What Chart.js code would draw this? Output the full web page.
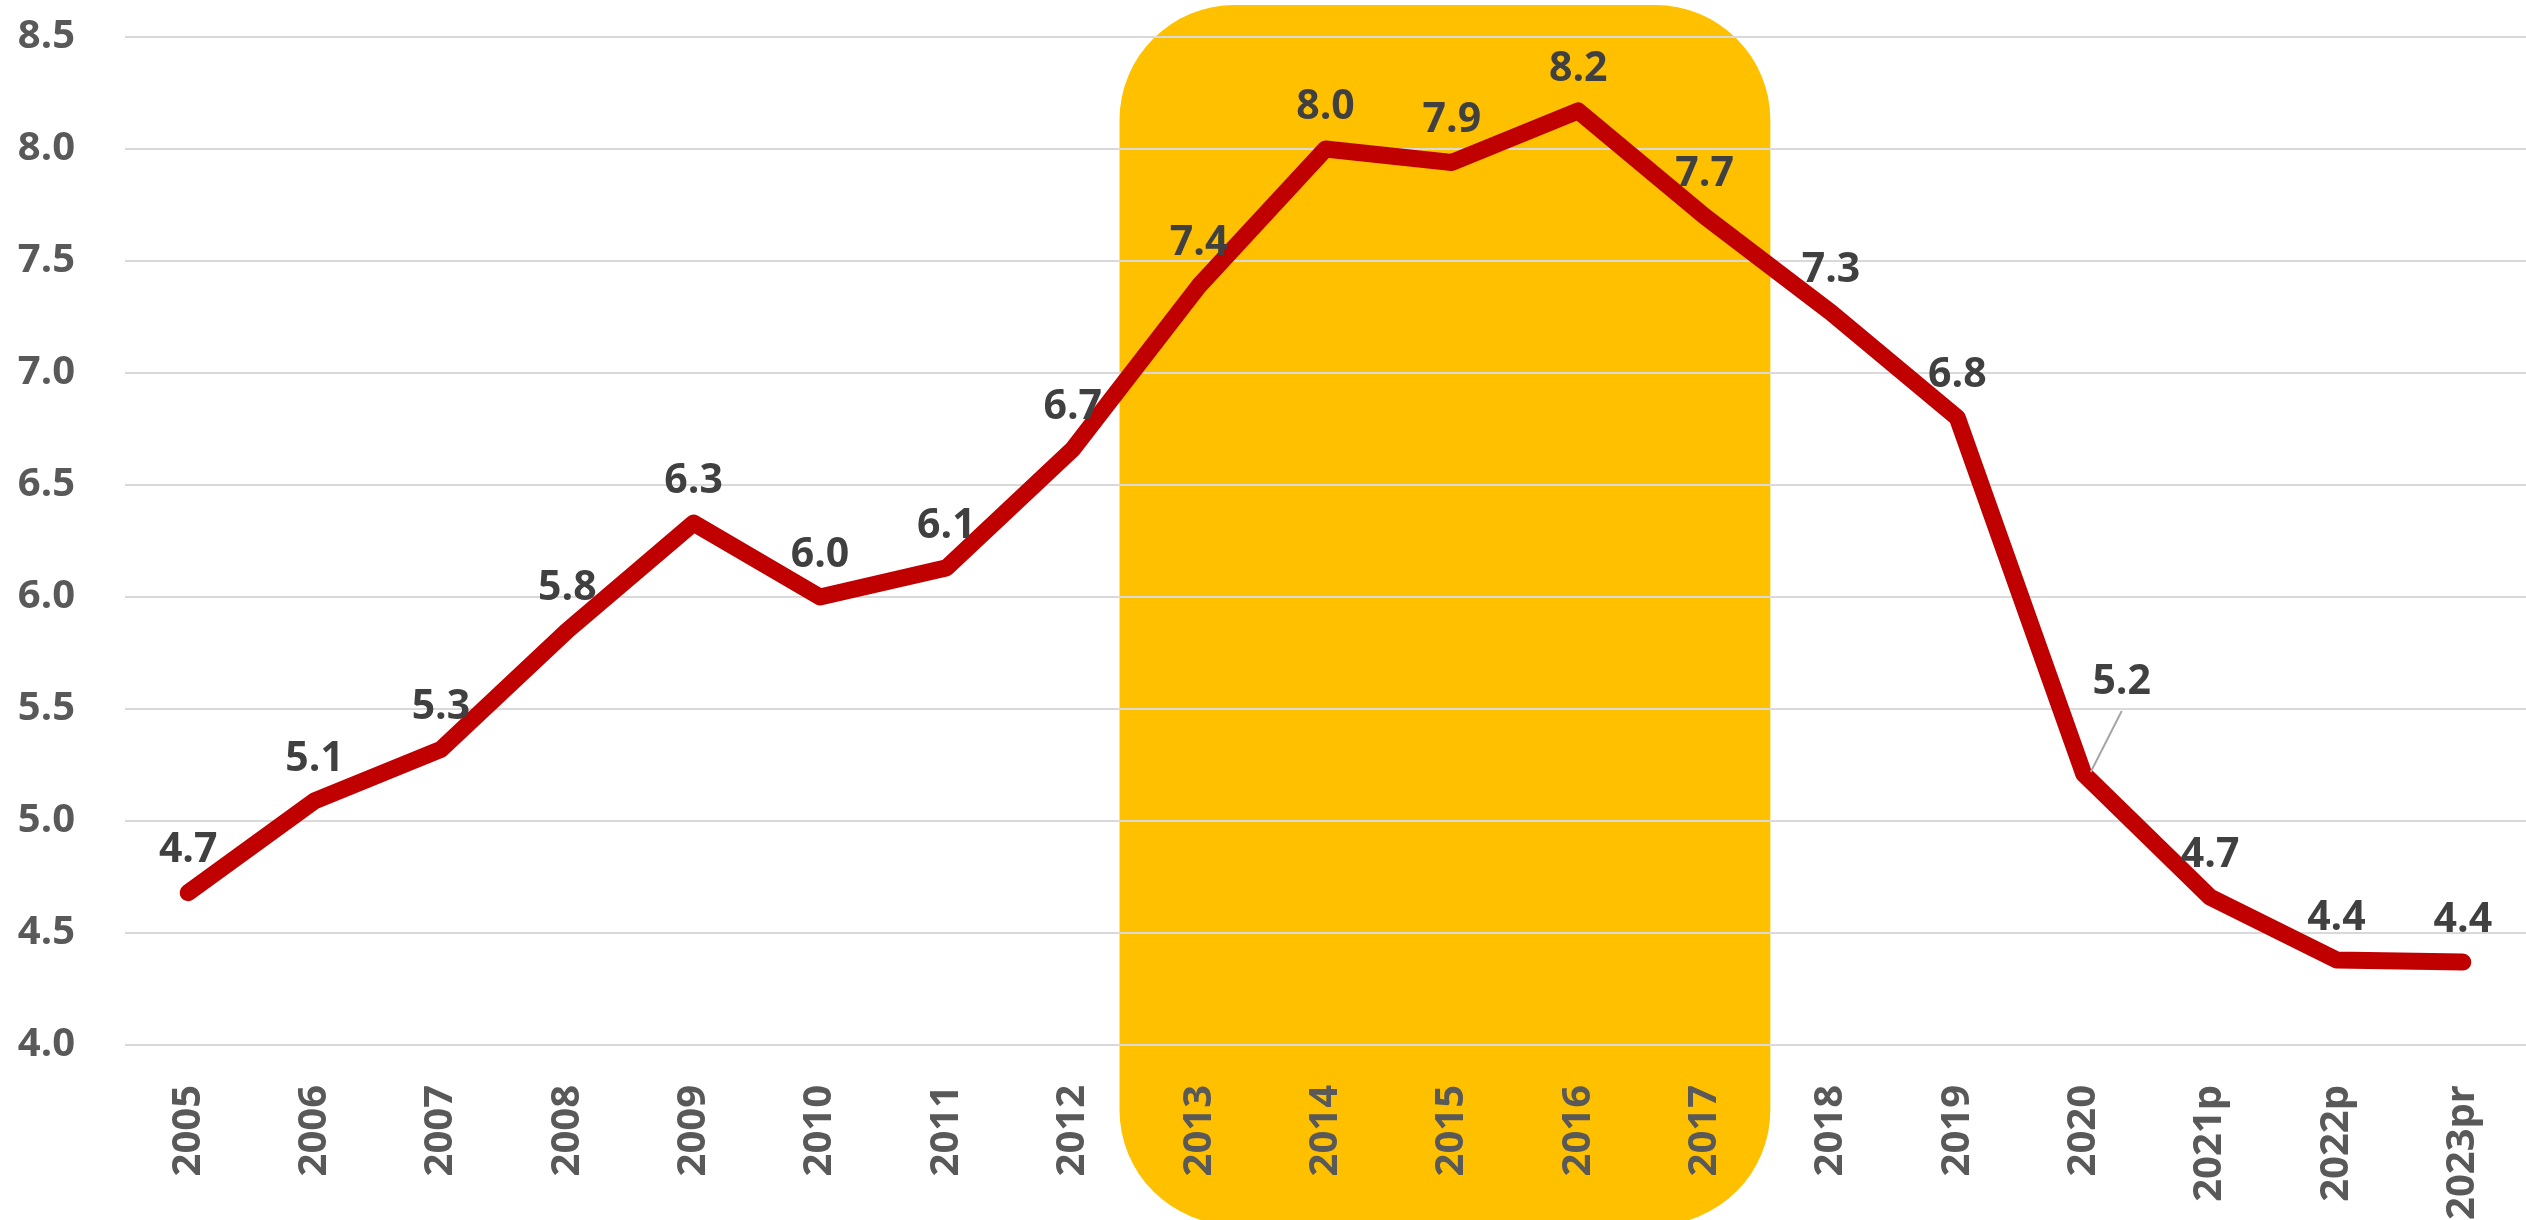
<!DOCTYPE html>
<html>
<head>
<meta charset="utf-8">
<script src="https://cdn.jsdelivr.net/npm/chart.js@4"></script>
<style>
    html, body { margin: 0; padding: 0; background: #ffffff; }
    #wrap { width: 2526px; height: 1220px; position: relative; }
</style>
</head>
<body>
<div id="wrap"><canvas id="chart"></canvas></div>
<script>
// Данные графика
const years = ['2005', '2006', '2007', '2008', '2009', '2010', '2011', '2012', '2013', '2014',
    '2015', '2016', '2017', '2018', '2019', '2020', '2021p', '2022p', '2023pr'];
const values = [4.68, 5.09, 5.32, 5.85, 6.33, 6.00, 6.13, 6.66, 7.39, 8.00,
    7.94, 8.17, 7.70, 7.27, 6.80, 5.21, 4.66, 4.38, 4.37];
const yTicks = [4.0, 4.5, 5.0, 5.5, 6.0, 6.5, 7.0, 7.5, 8.0, 8.5];
const highlightYears = ['2013', '2017'];

const FONT = '"Open Sans", "Noto Sans", sans-serif';

// Жёлтая подложка под 2013-2017
const highlightBox = {
    id: 'highlightBox',
    beforeDraw(chart) {
        const x = chart.scales.x;
        const step = x.getPixelForValue(1) - x.getPixelForValue(0);
        const left = x.getPixelForValue(years.indexOf(highlightYears[0])) - step * 0.63;
        const right = x.getPixelForValue(years.indexOf(highlightYears[1])) + step * 0.52;
        const top = 5, bottom = chart.height + 5;
        const ctx = chart.ctx;
        ctx.save();
        ctx.fillStyle = '#FFC000';
        ctx.beginPath();
        ctx.roundRect(left, top, right - left, bottom - top, 115);
        ctx.fill();
        ctx.restore();
    }
};

// Подписи значений
const valueLabels = {
    id: 'valueLabels',
    afterDatasetsDraw(chart) {
        const ctx = chart.ctx;
        const meta = chart.getDatasetMeta(0);
        ctx.save();
        ctx.font = 'bold 41px ' + FONT;
        ctx.fillStyle = '#404040';
        ctx.textAlign = 'center';
        ctx.textBaseline = 'middle';
        meta.data.forEach((pt, i) => {
            let dx = 0, dy = -42;
            if (years[i] === '2020') {
                dx = 38; dy = -92;
                ctx.strokeStyle = '#A6A6A6';
                ctx.lineWidth = 2;
                ctx.beginPath();
                ctx.moveTo(pt.x + dx, pt.y + dy + 29);
                ctx.lineTo(pt.x + 7, pt.y - 2);
                ctx.stroke();
            }
            ctx.fillText(values[i].toFixed(1), pt.x + dx, pt.y + dy);
        });
        ctx.restore();
    }
};

new Chart(document.getElementById('chart'), {
    type: 'line',
    data: {
        labels: years,
        datasets: [{
            data: values,
            borderColor: '#C00000',
            borderWidth: 17,
            borderCapStyle: 'round',
            borderJoinStyle: 'round',
            pointRadius: 0,
            tension: 0,
            fill: false
        }]
    },
    options: {
        responsive: true,
        maintainAspectRatio: false,
        animation: false,
        layout: { padding: { top: 37, right: 0, left: 0, bottom: 0 } },
        plugins: {
            legend: { display: false },
            tooltip: { enabled: false }
        },
        scales: {
            x: {
                offset: true,
                grid: { display: false, drawTicks: false },
                border: { display: false },
                afterFit: (s) => {
                    s.height = 175;
                    s.paddingLeft = 0;
                    s.paddingRight = 0;
                },
                ticks: {
                    autoSkip: false,
                    minRotation: 90,
                    maxRotation: 90,
                    padding: 40,
                    color: '#595959',
                    font: { family: FONT, size: 40, weight: 'bold' }
                }
            },
            y: {
                min: yTicks[0],
                max: yTicks[yTicks.length - 1],
                afterBuildTicks: (s) => { s.ticks = yTicks.map(v => ({ value: v })); },
                afterFit: (s) => {
                    s.width = 125;
                    s.paddingTop = 0;
                    s.paddingBottom = 0;
                },
                grid: { color: '#D9D9D9', lineWidth: 2, drawTicks: false },
                border: { display: false },
                ticks: {
                    padding: 50,
                    color: '#595959',
                    font: { family: FONT, size: 40, weight: 'bold' },
                    callback: (v) => Number(v).toFixed(1)
                }
            }
        }
    },
    plugins: [highlightBox, valueLabels]
});
</script>
</body>
</html>
